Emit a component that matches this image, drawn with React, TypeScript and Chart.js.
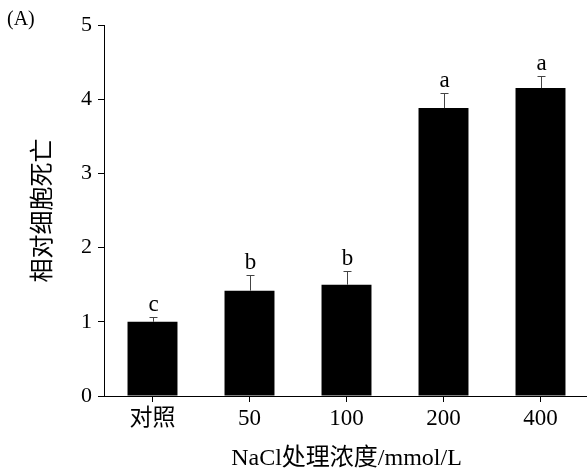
import React, { useEffect, useRef } from "react";
import { Chart, registerables } from "chart.js";

Chart.register(...registerables);

const categories = ["对照", "50", "100", "200", "400"];
const means = [1.0, 1.42, 1.5, 3.88, 4.15];
const errUp = [0.06, 0.21, 0.18, 0.21, 0.16];
const letters = ["c", "b", "b", "a", "a"];
const yTicks = [0, 1, 2, 3, 4, 5];

const SERIF = "'Liberation Serif', 'Times New Roman', 'Noto Sans CJK SC', serif";

const overlayPlugin = {
  id: "overlay",
  afterDatasetsDraw(chart: any) {
    const ctx = chart.ctx;
    const x = chart.scales.x;
    const y = chart.scales.y;
    ctx.save();
    ctx.strokeStyle = "#444";
    ctx.lineWidth = 1;
    means.forEach((m, i) => {
      const cx = Math.round(x.getPixelForValue(i)) + 0.5;
      const yTop = y.getPixelForValue(m);
      const yErr = Math.round(y.getPixelForValue(m + errUp[i])) + 0.5;
      ctx.beginPath();
      ctx.moveTo(cx, yTop);
      ctx.lineTo(cx, yErr);
      ctx.moveTo(cx - 4, yErr);
      ctx.lineTo(cx + 4, yErr);
      ctx.stroke();
      ctx.fillStyle = "#000";
      ctx.font = `23px ${SERIF}`;
      ctx.textAlign = "center";
      ctx.textBaseline = "alphabetic";
      ctx.fillText(letters[i], cx, yErr - 7);
    });
    ctx.font = `20px ${SERIF}`;
    ctx.textAlign = "left";
    ctx.fillText("(A)", 7, 25);
    ctx.restore();
  },
};

export default function App() {
  const ref = useRef<HTMLCanvasElement | null>(null);
  useEffect(() => {
    if (!ref.current) return;
    const chart = new Chart(ref.current, {
      type: "bar",
      data: {
        labels: categories,
        datasets: [
          {
            data: means,
            backgroundColor: "#000",
            borderWidth: 0,
            barPercentage: 0.515,
            categoryPercentage: 1,
          },
        ],
      },
      options: {
        animation: false,
        responsive: false,
        events: [],
        layout: { padding: { top: 25, left: 0, right: 3, bottom: 0 } },
        plugins: { legend: { display: false }, tooltip: { enabled: false } },
        scales: {
          x: {
            offset: true,
            grid: {
              offset: false,
              display: true,
              drawOnChartArea: false,
              drawTicks: true,
              tickLength: 6,
              color: "#000",
            },
            border: { display: true, color: "#000", width: 1 },
            ticks: { color: "#000", font: { family: SERIF, size: 23 }, padding: 3, maxRotation: 0 },
            title: {
              display: true,
              text: "NaCl处理浓度/mmol/L",
              color: "#000",
              font: { family: SERIF, size: 24 },
              padding: { top: 0, bottom: 0 },
            },
            afterFit(scale: any) {
              scale.height = 77;
            },
          },
          y: {
            min: 0,
            max: 5,
            afterBuildTicks(scale: any) {
              scale.ticks = yTicks.map((v) => ({ value: v }));
            },
            grid: {
              display: true,
              drawOnChartArea: false,
              drawTicks: true,
              tickLength: 6,
              color: "#000",
            },
            border: { display: true, color: "#000", width: 1 },
            ticks: { color: "#000", font: { family: SERIF, size: 22 }, padding: 6 },
            title: {
              display: true,
              text: "相对细胞死亡",
              color: "#000",
              font: { family: SERIF, size: 24 },
              padding: { top: 29, bottom: 0 },
            },
            afterFit(scale: any) {
              scale.width = 104;
            },
          },
        },
      },
      plugins: [overlayPlugin],
    });
    return () => chart.destroy();
  }, []);
  return (
    <div
      style={{
        position: "fixed",
        left: 0,
        top: 0,
        width: 587,
        height: 473,
        overflow: "hidden",
        background: "#fff",
      }}
    >
      <canvas ref={ref} width={592} height={473} style={{ display: "block" }} />
    </div>
  );
}
